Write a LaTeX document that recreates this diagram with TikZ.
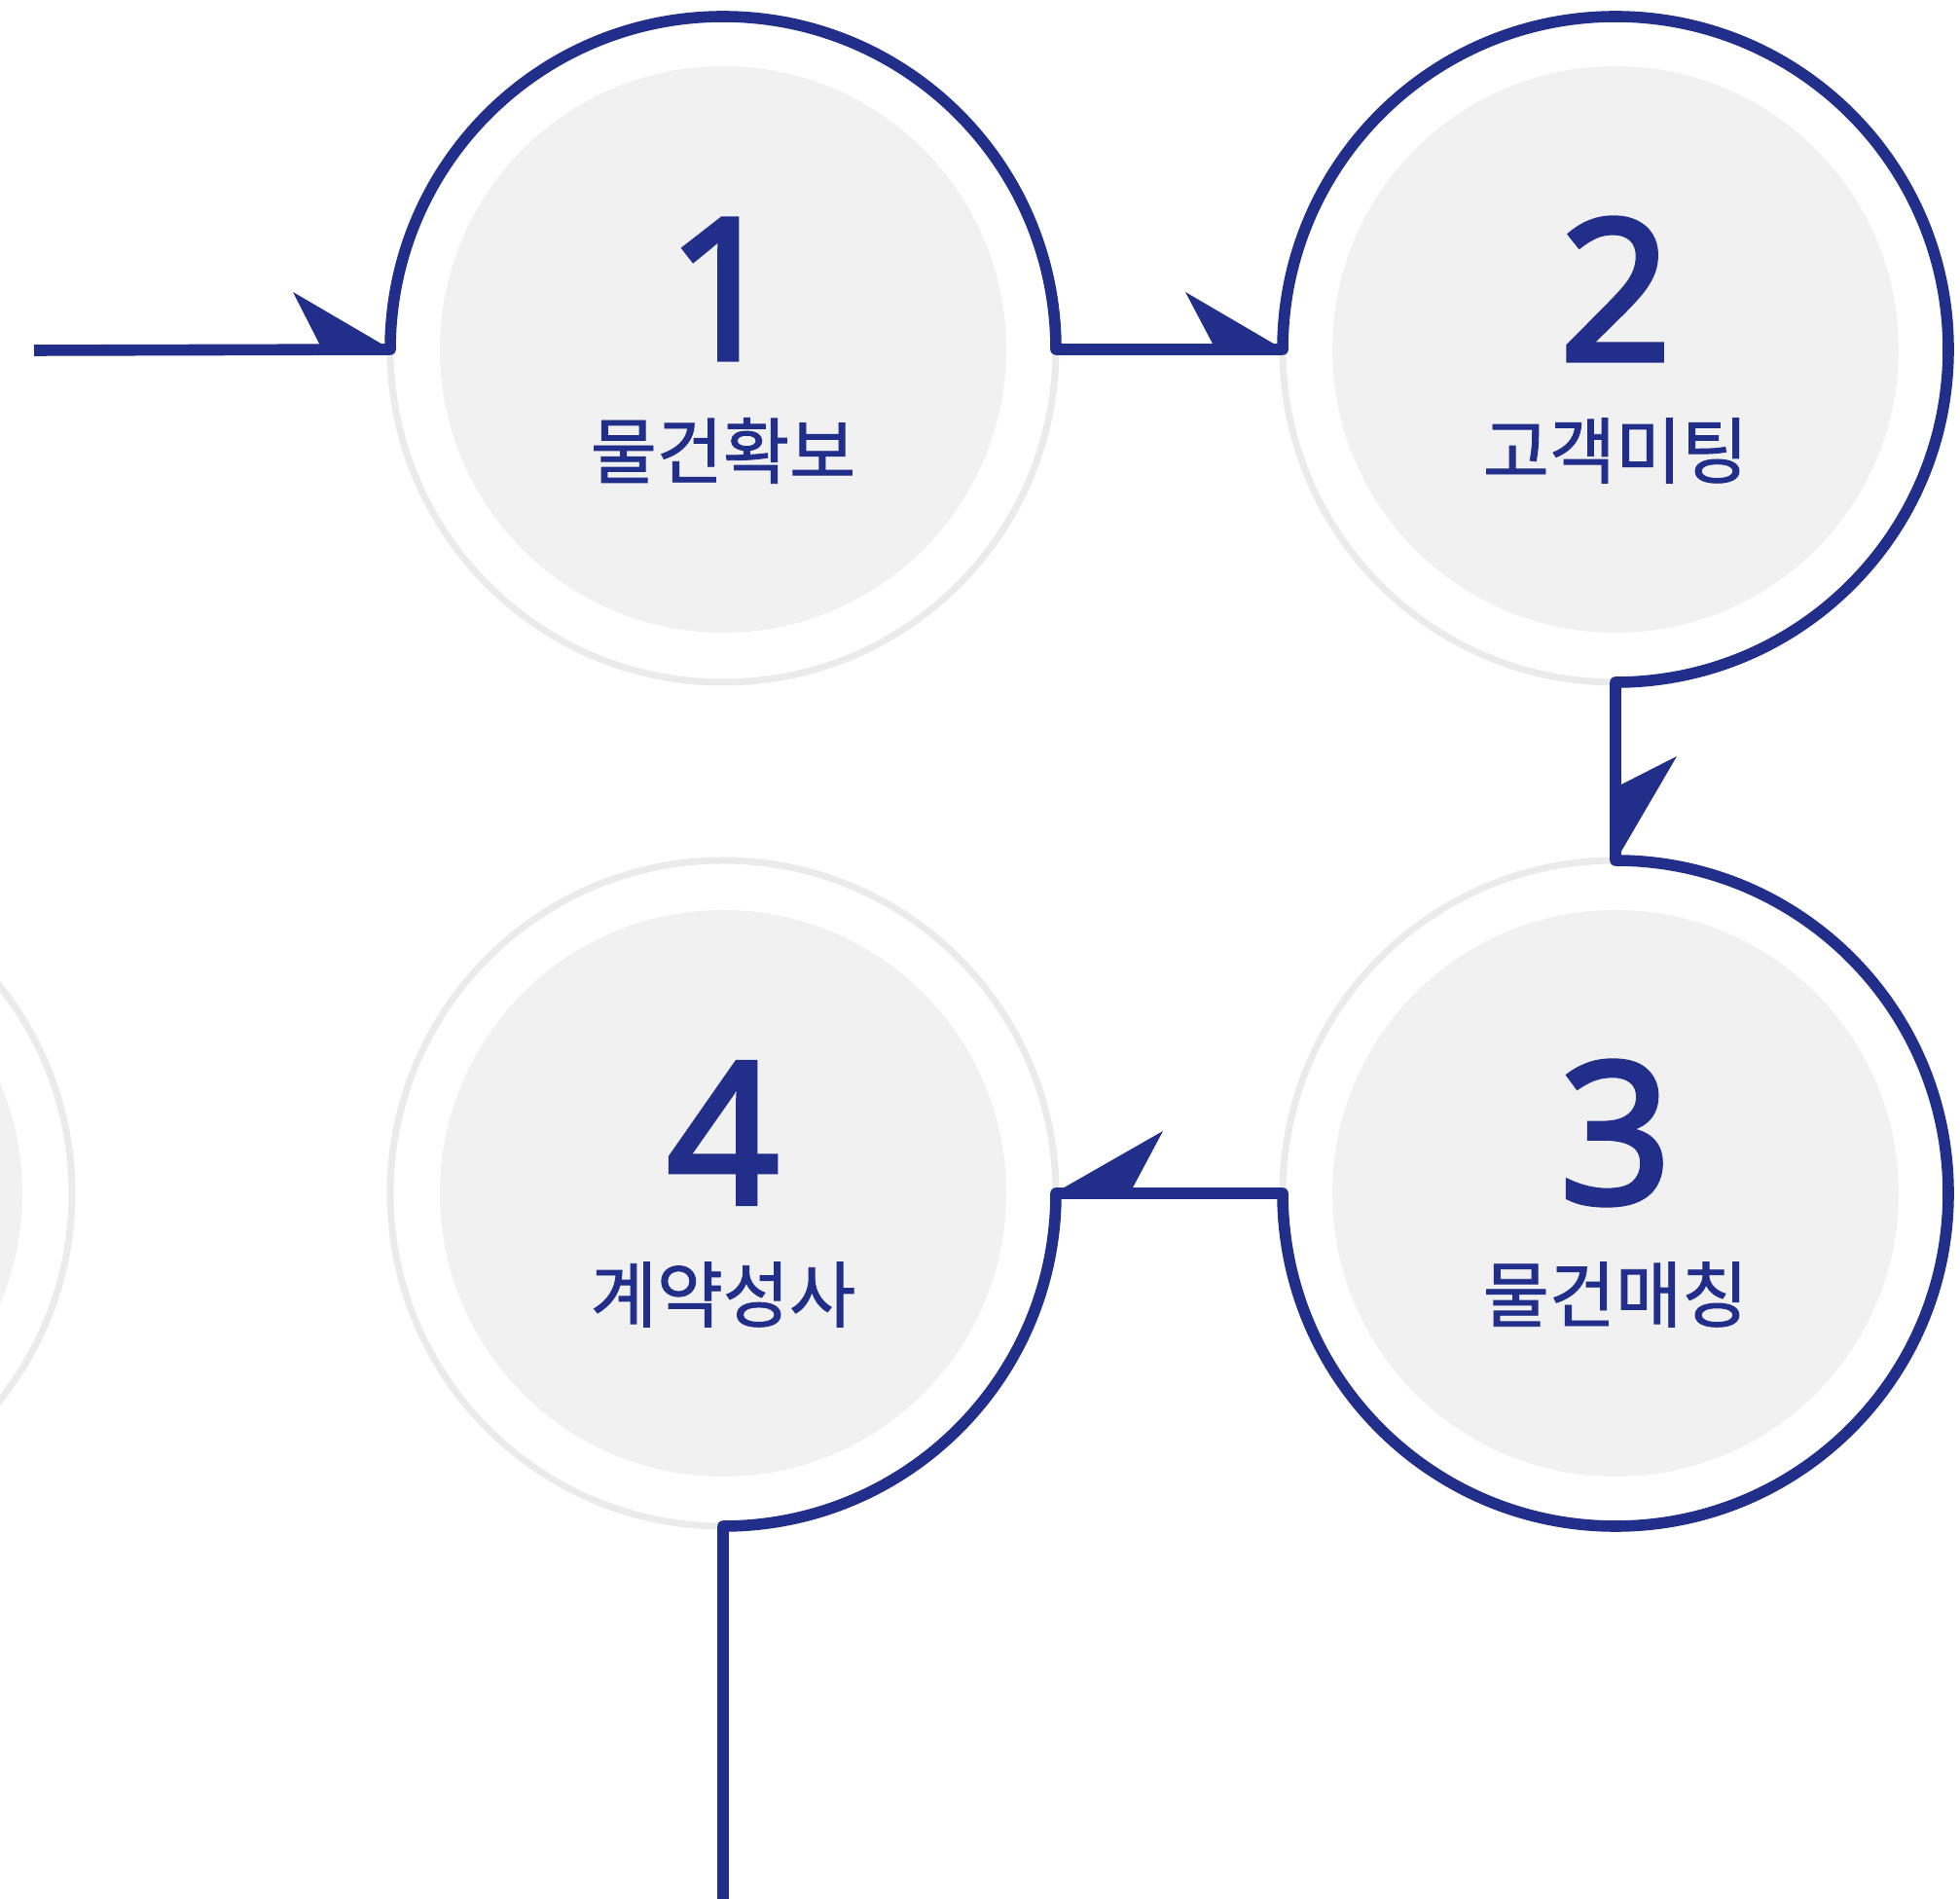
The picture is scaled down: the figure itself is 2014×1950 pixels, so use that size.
\documentclass[tikz,border=0pt]{standalone}
\usepackage{fontspec}
\usetikzlibrary{calc}
\newfontfamily\krfont[FakeBold=1.2]{Noto Sans CJK KR}
\newfontfamily\numfont[FakeBold=2.5]{Noto Sans}
\definecolor{navy}{RGB}{33,46,138}
\definecolor{ringgray}{RGB}{235,235,235}
\definecolor{innergray}{RGB}{241,241,241}
\begin{document}
\begin{tikzpicture}[x=0.5pt,y=0.5pt,
  ring/.style={circle,draw=ringgray,line width=3.5pt,minimum size=342pt,inner sep=0pt,outer sep=0pt},
  disc/.style={circle,fill=innergray,minimum size=291pt,inner sep=0pt,outer sep=0pt},
  numtxt/.style={font=\numfont\fontsize{101pt}{101pt}\selectfont,text=navy,inner sep=0pt},
  labtxt/.style={font=\krfont\fontsize{37pt}{37pt}\selectfont,text=navy,inner sep=0pt},
  flow/.style={draw=navy,line width=5.8pt,line join=round},
  barb/.style={fill=navy,draw=none}]
\clip (0,0) rectangle (2014,1950);
\useasboundingbox (0,0) rectangle (2014,1950);
% partial circle at left
\node[ring] (c0) at (-268,724) {};
\node[disc] (d0) at (-268,724) {};
% circles
\node[ring] (c1) at (743,1591) {};
\node[disc] (d1) at (743,1591) {};
\node[ring] (c2) at (1660,1591) {};
\node[disc] (d2) at (1660,1591) {};
\node[ring] (c3) at (1660,724) {};
\node[disc] (d3) at (1660,724) {};
\node[ring] (c4) at (743,724) {};
\node[disc] (d4) at (743,724) {};
% texts
\node[numtxt] (n1) at (743,1653) {1};
\node[labtxt] (l1) at (743,1487) {물건확보};
\node[numtxt] (n2) at (1660,1653) {2};
\node[labtxt] (l2) at (1660,1487) {고객미팅};
\node[numtxt] (n3) at (1660,786) {3};
\node[labtxt] (l3) at (1660,620) {물건매칭};
\node[numtxt] (n4) at (743,786) {4};
\node[labtxt] (l4) at (743,620) {계약성사};
% flow line
\coordinate (start) at (35,1590);
\coordinate (finish) at (743,-30);
\draw[flow] (start) -- (c1.west) arc[start angle=180,end angle=0,radius=342]
  -- (c2.west) arc[start angle=180,end angle=-90,radius=342]
  -- (c3.north) arc[start angle=90,end angle=-180,radius=342]
  -- (c4.east) arc[start angle=0,end angle=-90,radius=342]
  -- (finish);
% barbs
\fill[barb] ($(c1.west)+(-6,4)$) -- ($(c1.west)+(-72,4)$) -- ($(c1.west)+(-100,59)$) -- cycle;
\fill[barb] ($(c2.west)+(-6,4)$) -- ($(c2.west)+(-71,4)$) -- ($(c2.west)+(-100,59)$) -- cycle;
\fill[barb] ($(c3.north)+(4,6)$) -- ($(c3.north)+(4,77)$) -- ($(c3.north)+(63,107)$) -- cycle;
\fill[barb] ($(c4.east)+(5,4)$) -- ($(c4.east)+(78,4)$) -- ($(c4.east)+(110,64)$) -- cycle;
\end{tikzpicture}
\end{document}
